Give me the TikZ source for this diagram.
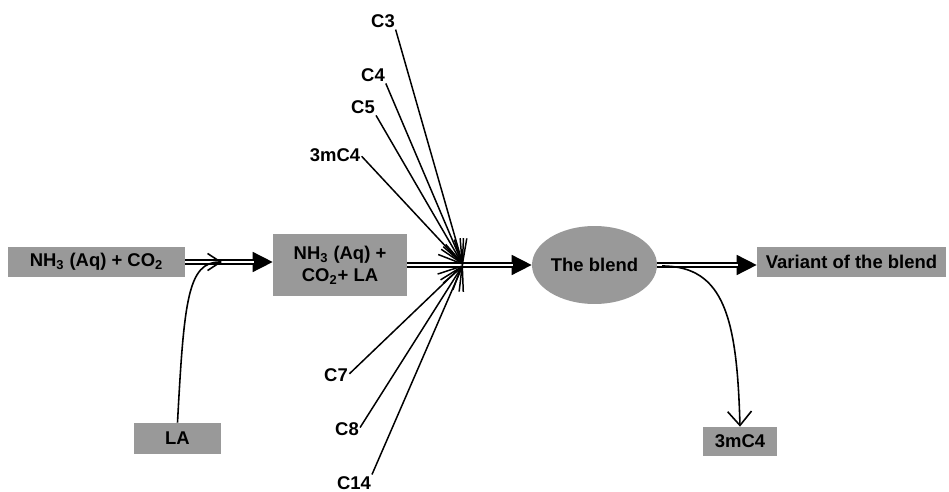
\documentclass[tikz,border=0pt]{standalone}
\usepackage{fontspec}
\setmainfont{Liberation Sans}
\usetikzlibrary{arrows.meta,shapes.geometric}
\definecolor{boxgray}{RGB}{153,153,153}
\begin{document}
\begin{tikzpicture}[x=0.02cm,y=-0.02cm,
  every node/.style={font=\fontsize{10.5}{12.5}\selectfont\bfseries},
  box/.style={fill=boxgray, inner sep=0pt, align=center},
  lbl/.style={inner sep=0pt},
  dbl/.style={double, double distance=1.7pt, line width=0.9pt, shorten >=10.5pt},
  fat/.style={line width=0.9pt, -{Triangle[length=11.4pt,width=11.4pt]}},
  fan/.style={line width=0.85pt, shorten <=1pt, -{Straight Barb[length=13pt,width=12.5pt]}},
  curvy/.style={line width=0.9pt}
]
\useasboundingbox (0,0) rectangle (949,492);
% nodes
\node[box, minimum width=3.54cm, minimum height=0.6cm] (b1) at (96.5,262) {NH\textsubscript{3} (Aq) + CO\textsubscript{2}};
\node[box, minimum width=2.68cm, minimum height=1.24cm] (b2) at (340,265) {NH\textsubscript{3} (Aq) +\\CO\textsubscript{2}+ LA};
\node[ellipse, fill=boxgray, minimum width=2.5cm, minimum height=1.56cm, inner sep=0pt] (e) at (594.5,265) {The blend};
\node[box, minimum width=3.78cm, minimum height=0.6cm] (v) at (851.5,262) {Variant of the blend};
\node[box, minimum width=1.74cm, minimum height=0.62cm] (la) at (177.5,438.5) {LA};
\node[box, minimum width=1.48cm, minimum height=0.58cm] (m) at (740,441.5) {3mC4};
% labels
\node[lbl] (c3) at (383,21) {C3};
\node[lbl] (c4) at (373,75) {C4};
\node[lbl] (c5) at (363,107) {C5};
\node[lbl] (m4) at (335,155) {3mC4};
\node[lbl] (c7) at (336,375) {C7};
\node[lbl] (c8) at (347,429) {C8};
\node[lbl] (c14) at (354,483) {C14};
\coordinate (j) at (463,265);
\coordinate (laend) at (222,262);
\coordinate (split) at (662,266);
% main double arrows
\draw[fat] (b1.east) -- (b1.east -| b2.west);
\draw[dbl] (b1.east) -- (b1.east -| b2.west);
\draw[fat] (b2.east) -- (e.west);
\draw[dbl] (b2.east) -- (e.west);
\draw[fat] (e.east) -- (e.east -| v.west);
\draw[dbl] (e.east) -- (e.east -| v.west);
% fan
\draw[fan] (c3.south east) -- (j);
\draw[fan] (c4.south east) -- (j);
\draw[fan] (c5.south east) -- (j);
\draw[fan] (m4.east) -- (j);
\draw[fan] (c7.east) -- (j);
\draw[fan] (c8.east) -- (j);
\draw[fan] (c14.north east) -- (j);
% curves
\draw[curvy, -{Straight Barb[length=7.4pt,width=9.7pt]}] (la.north) .. controls (184,300) and (188,262) .. (laend);
\draw[curvy, -{Straight Barb[length=8pt,width=13.6pt]}] (split) .. controls (725,266) and (737,320) .. (m.north);
\end{tikzpicture}
\end{document}
